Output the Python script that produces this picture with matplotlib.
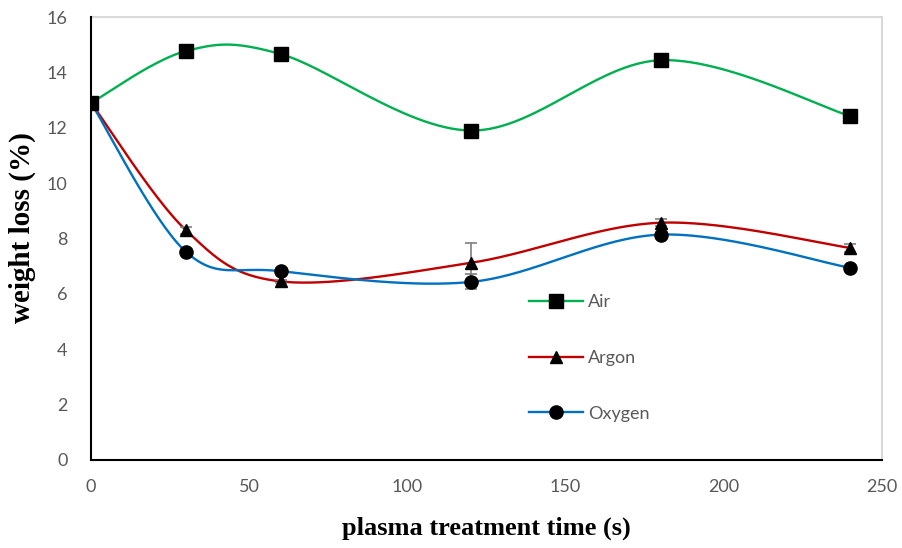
import numpy as np
import matplotlib.pyplot as plt
from matplotlib.lines import Line2D

# plasma treatment time (s)
time_s = [0, 30, 60, 120, 180, 240]

# weight loss (%) per gas
air = [12.9, 14.77, 14.66, 11.9, 14.44, 12.42]
argon = [12.9, 8.3, 6.45, 7.12, 8.57, 7.66]
oxygen = [12.9, 7.52, 6.82, 6.43, 8.14, 6.94]

air_err = [0.05, 0.05, 0.05, 0.05, 0.05, 0.2]
argon_err = [0.05, 0.12, 0.05, 0.72, 0.12, 0.15]
oxygen_err = [0.05, 0.05, 0.05, 0.27, 0.05, 0.05]

xticks = [0, 50, 100, 150, 200, 250]
yticks = [0, 2, 4, 6, 8, 10, 12, 14, 16]


def smooth(x, y, n=60):
    # Catmull-Rom style bezier through every point (spreadsheet "smoothed line")
    x = np.asarray(x, float)
    y = np.asarray(y, float)
    px = np.concatenate([[x[0]], x, [x[-1]]])
    py = np.concatenate([[y[0]], y, [y[-1]]])
    t = np.linspace(0, 1, n)[:, None]
    xs, ys = [], []
    for i in range(1, len(px) - 2):
        p0 = np.array([px[i], py[i]])
        p3 = np.array([px[i + 1], py[i + 1]])
        c1 = p0 + (p3 - np.array([px[i - 1], py[i - 1]])) / 6
        c2 = p3 - (np.array([px[i + 2], py[i + 2]]) - p0) / 6
        b = ((1 - t) ** 3) * p0 + 3 * ((1 - t) ** 2) * t * c1 + 3 * (1 - t) * t ** 2 * c2 + t ** 3 * p3
        xs.append(b[:, 0])
        ys.append(b[:, 1])
    return np.concatenate(xs), np.concatenate(ys)


fig = plt.figure(figsize=(9.02, 5.48), dpi=100)
ax = fig.add_axes([91 / 902, 88 / 548, 791 / 902, 443 / 548])

series = [
    ('Air', air, air_err, '#00b050', 's', 10),
    ('Argon', argon, argon_err, '#c00000', '^', 9),
    ('Oxygen', oxygen, oxygen_err, '#0070c0', 'o', 9.5),
]

handles = []
for name, vals, err, color, mk, ms in series:
    sx, sy = smooth(time_s, vals)
    ax.plot(sx, sy, color=color, lw=1.7, zorder=2)
    ax.errorbar(time_s, vals, yerr=err, fmt='none', ecolor='#7f7f7f',
                elinewidth=1.2, capsize=4, capthick=1.2, zorder=3)
    ax.plot(time_s, vals, ls='none', marker=mk, ms=ms, color='black', zorder=4)
    handles.append(Line2D([], [], color=color, lw=1.7, marker=mk, ms=ms,
                          markerfacecolor='black', markeredgecolor='black', label=name))

ax.set_xlim(0, 250)
ax.set_ylim(0, 16)
ax.set_xticks(xticks)
ax.set_yticks(yticks)
ax.tick_params(length=0, labelsize=13, labelcolor='#595959')
ax.tick_params(axis='x', pad=14)
ax.tick_params(axis='y', pad=17)
for lab in ax.get_xticklabels() + ax.get_yticklabels():
    lab.set_family('Lato')
for side in ['top', 'right']:
    ax.spines[side].set_color('#d9d9d9')
    ax.spines[side].set_linewidth(1.5)
ax.spines['left'].set_linewidth(1.5)
ax.spines['bottom'].set_linewidth(1.5)
ax.spines['left'].set_zorder(5)
ax.spines['bottom'].set_zorder(5)

ax.set_xlabel('plasma treatment time (s)', family='Liberation Serif',
              fontweight='bold', fontsize=19, labelpad=15)
ax.set_ylabel('weight loss (%)', family='Liberation Serif',
              fontweight='bold', fontsize=21)
ax.yaxis.set_label_coords(-0.07, 0.524)

leg = ax.legend(handles=handles, loc='upper left', bbox_to_anchor=(513 / 902, 1 - 278 / 548),
                bbox_transform=fig.transFigure, frameon=False, handlelength=2.95,
                labelspacing=2.2, handletextpad=0.3,
                prop={'family': 'Lato', 'size': 13})
for t in leg.get_texts():
    t.set_color('#595959')

fig.savefig('out.png', dpi=100)
